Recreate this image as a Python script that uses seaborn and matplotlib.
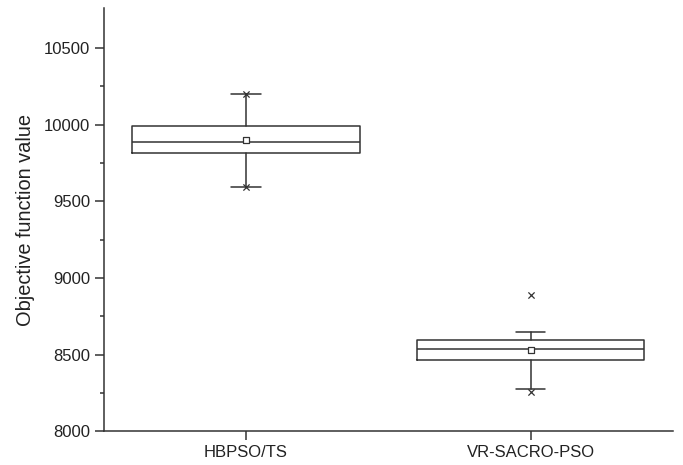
import matplotlib
matplotlib.use("Agg")
import matplotlib.pyplot as plt
import seaborn as sns
import pandas as pd

# Summary statistics of the objective function value for each algorithm
categories = ["HBPSO/TS", "VR-SACRO-PSO"]
q1 = [9813, 8463]
median = [9889, 8537]
q3 = [9991, 8594]
whisker_low = [9594, 8274]
whisker_high = [10198, 8650]
means = [9902, 8530]
# min / max runs shown as crosses
extreme_alg = ["HBPSO/TS", "HBPSO/TS", "VR-SACRO-PSO", "VR-SACRO-PSO"]
extreme_val = [9594, 10198, 8256, 8891]

yticks = [8000, 8500, 9000, 9500, 10000, 10500]

sns.set_theme(style="ticks")
plt.rcParams["font.family"] = ["Liberation Sans", "DejaVu Sans"]

ink = "#333333"
fig = plt.figure(figsize=(6.83, 4.65), dpi=100)
ax = fig.add_axes([0.152, 0.0725, 0.833, 0.91])

pos = {c: i for i, c in enumerate(categories)}
stats = [
    dict(label=c, q1=a, med=m, q3=b, whislo=lo, whishi=hi, mean=mu, fliers=[])
    for c, a, m, b, lo, hi, mu in zip(categories, q1, median, q3,
                                      whisker_low, whisker_high, means)
]
line = dict(color=ink, linewidth=1.1)
ax.bxp(stats, positions=list(range(len(categories))), widths=0.8,
       capwidths=0.103, showmeans=False, showfliers=False,
       boxprops=line, medianprops=line, whiskerprops=line, capprops=line)

df_mean = pd.DataFrame({"x": [pos[c] for c in categories], "y": means})
sns.scatterplot(data=df_mean, x="x", y="y", ax=ax, marker="s", s=22,
                facecolor="white", edgecolor=ink, linewidth=0.9, zorder=5)

df_ext = pd.DataFrame({"x": [pos[c] for c in extreme_alg], "y": extreme_val})
sns.scatterplot(data=df_ext, x="x", y="y", ax=ax, marker="x", s=20,
                color=ink, linewidth=0.9, zorder=5)

ax.set_xlim(-0.5, 1.5)
ax.set_ylim(8000, 10760)
ax.set_xticks(range(len(categories)))
ax.set_xticklabels(categories)
ax.set_yticks(yticks)
ax.set_yticks([8250, 8750, 9250, 9750, 10250], minor=True)
ax.set_xlabel("")
ax.set_ylabel("Objective function value", fontsize=14.4, color="#222222",
              labelpad=6)

ax.tick_params(axis="both", which="major", direction="out", length=6.5,
               width=1.1, color=ink, labelsize=12, labelcolor="#222222")
ax.tick_params(axis="y", which="minor", direction="out", length=3,
               width=1.1, color=ink)
sns.despine(ax=ax)
for s in ("left", "bottom"):
    ax.spines[s].set_color(ink)
    ax.spines[s].set_linewidth(1.1)

fig.savefig("out.png", dpi=100)
